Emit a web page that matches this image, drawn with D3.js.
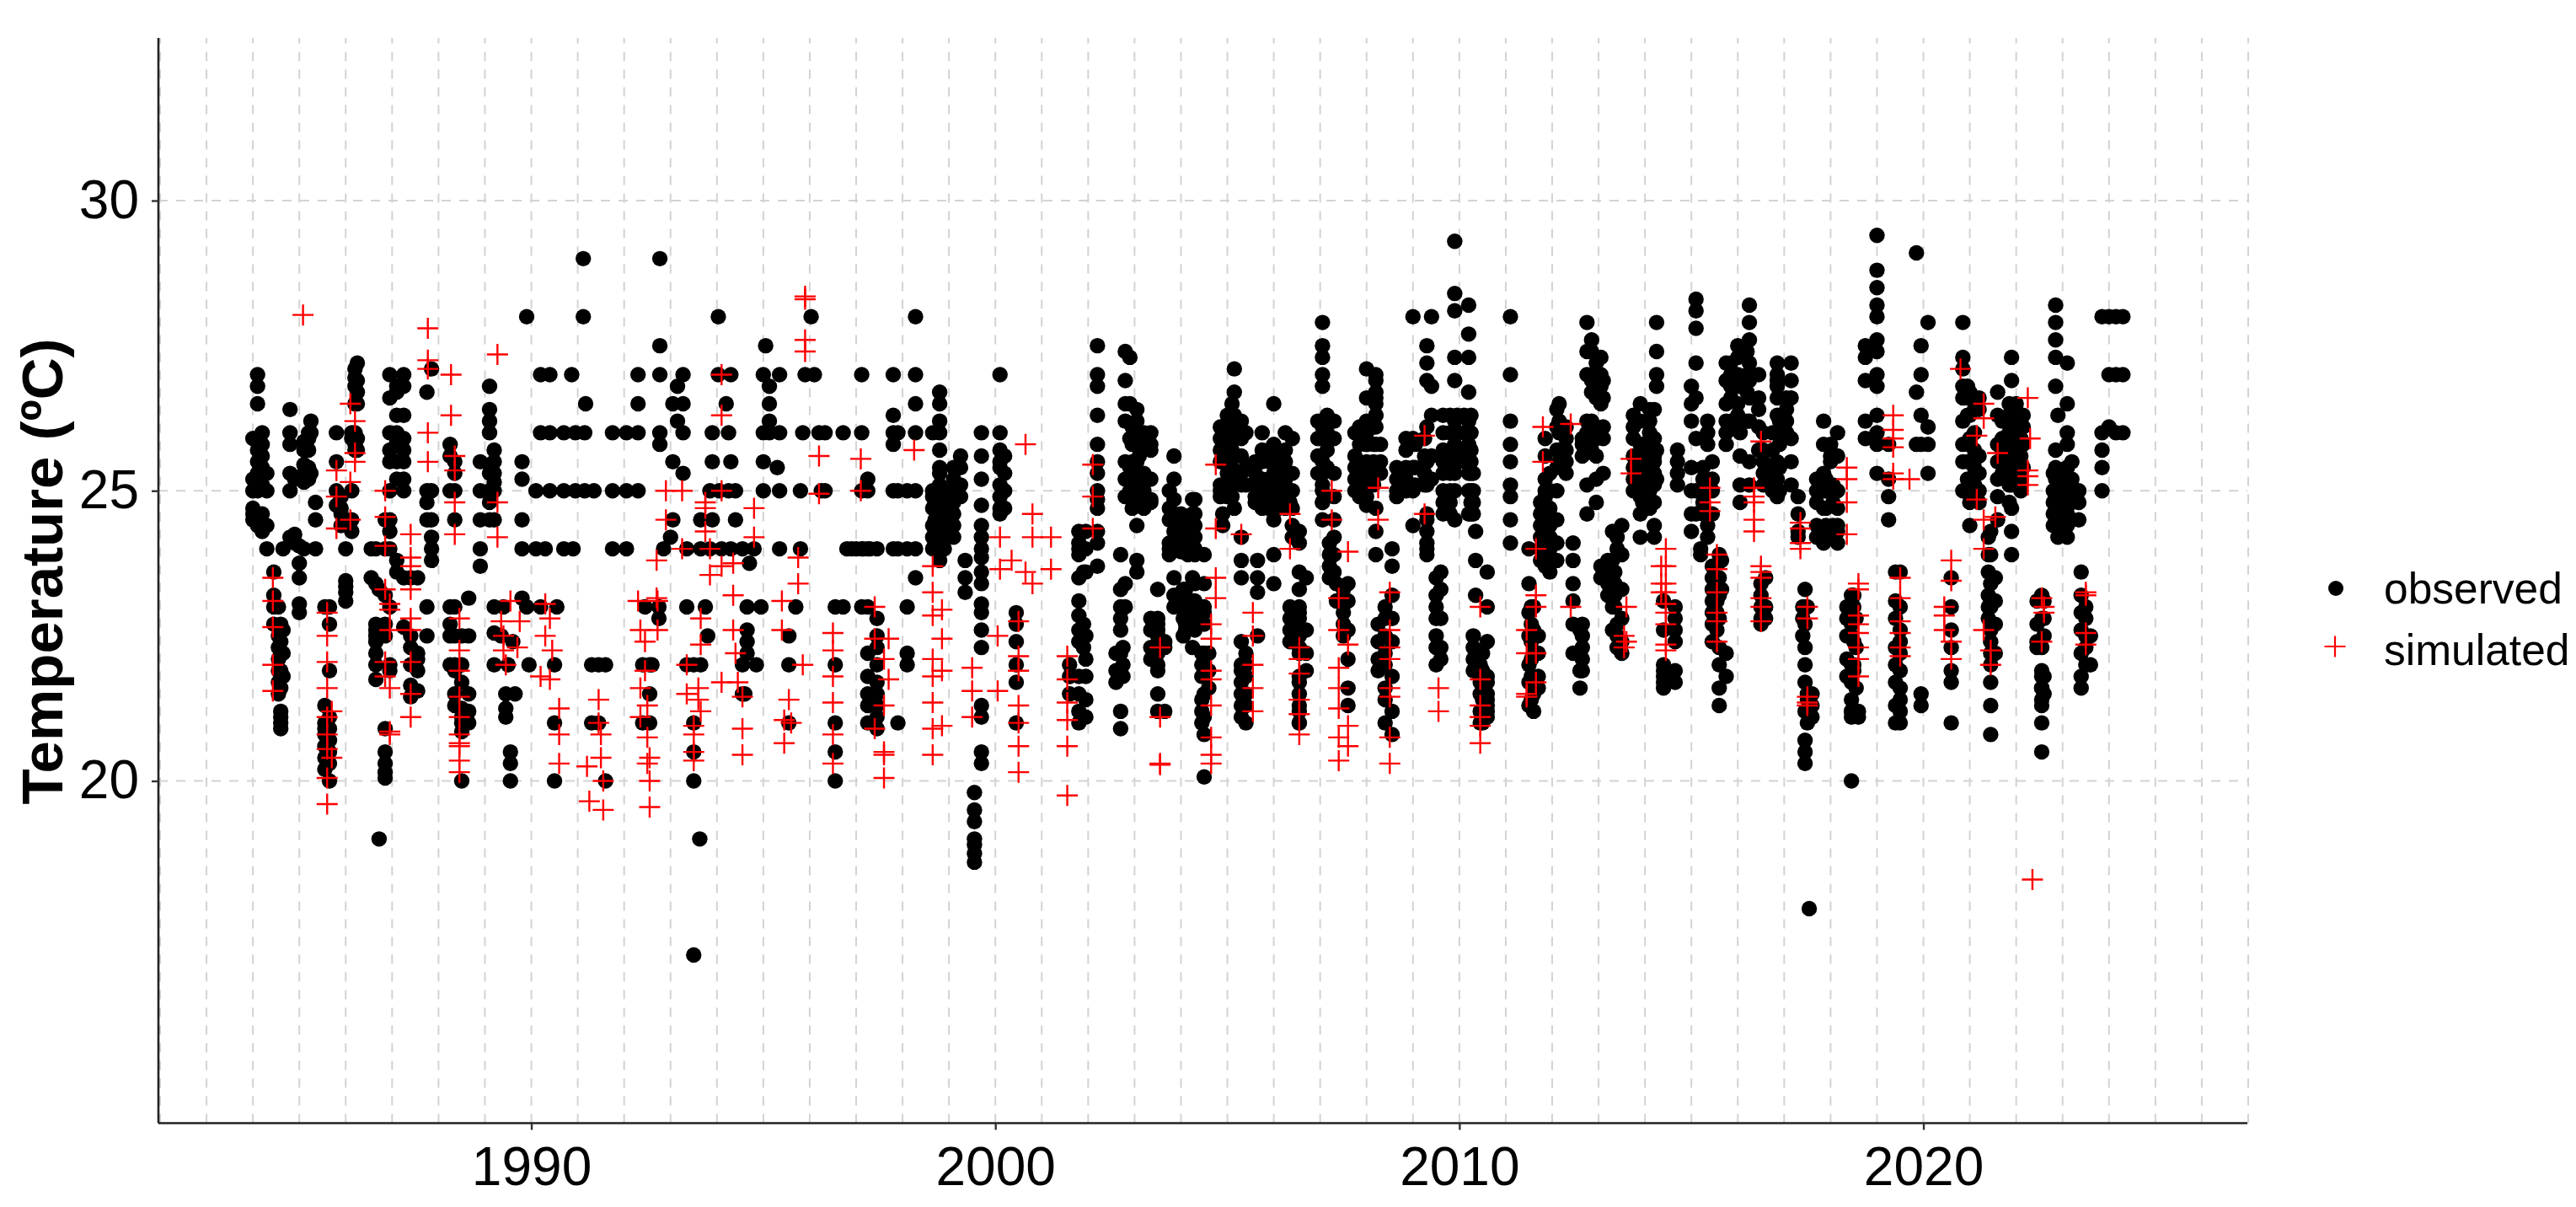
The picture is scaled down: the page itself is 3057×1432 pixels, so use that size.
<!DOCTYPE html>
<html><head><meta charset="utf-8">
<script src="https://cdn.jsdelivr.net/npm/d3@7"></script>
<style>html,body{margin:0;background:#fff}svg{display:block}text{font-family:"Liberation Sans",Arial,sans-serif;fill:#000}</style>
</head><body><svg id="c" width="3057" height="1432"></svg>
<script>
// each row: decimal year, then temperatures read at that date
const observedColumns = [
[1984.0,25.9,25.2,25,24.7,24.6,24.5],[1984.1,27,26.8,26.5,25.9,25.7,25.5,25.3,25,24.4],[1984.2,26,25.8,25.6,25.4,25.1,24.6,24.3],[1984.3,25.3,25,24.4,24],
[1984.45,23.6,23.2,23,22.7],[1984.55,23,22.5,22.3,22.1,21.9,21.7,21.5],[1984.6,22.7,22.4,22.2,21.9,21.6,21.2,21,20.9,21.1],[1984.65,24,22.6,22.2,21.8],
[1984.8,26.4,26,25.8,25.3,25,24.2],[1984.9,25.2,24.1,24.25],[1985.0,23.75,23.5,23.05,22.9,24.05],[1985.1,25.85,25.7,25.45,25.3,25.15,24],[1985.2,26,25.9,25.7,25.4,25.2],[1985.25,26.2,26,25.3],[1985.35,24.8,24.5,24],
[1985.55,23,21.3,21,20.9,20.8,20.6,20.4,20.2],[1985.65,23,22.7,21.9,21.1,20.9,20.7,20.5,20.3,20],[1985.8,26,25.5,25,24.75],[1985.9,24.9,24.7,24.6,24.4],[1986.0,24,23.45,23.25,23.1,23.35],
[1986.13,26,25.9,25,24.5,24.3],[1986.2,27.1,26.95,26.8,26.5,26,25.8,25.7],[1986.25,27.2,26.9,26.7,26.5,25.9,25.7],
[1986.55,24,23.5],[1986.65,24,23.4,22.2,22,21.75,22.7,22.5,22.4,22.6],[1986.72,19,23.3],[1986.85,24.5,24,22.7,22.5,20.9,20.5,20.3,20.15,20.05,23.2],[1986.95,27,26.6,26,25.7,25.5,25,24.3,24.5,24,23,22,21.9],
[1987.1,26.8,26.7,26.3,26,25.85,25.5,25.2,23.8,23.6],[1987.25,27,26.8,26.3,25.9,25.7,25.5,25.2,25,23.5,22.65],[1987.4,22.5,22,21.65,21.45,23.5,22.3],[1987.55,23.5,22.2,22.1,21.9,21.55],[1987.75,26.7,25,24.8,24.5,23,22.5],[1987.85,27.1,25,24.5,24.2,24,23.8],
[1988.25,25.8,25.6,25,23,22.7,22.5,22],[1988.35,25.5,25.3,25,24.5,23,22.5,22,21.9,21.5,21.3],[1988.5,22.5,22,21.7,21.25,21.1,21,20.85,20],[1988.65,23.15,22.5,21.5,21.2,21],[1988.9,25.5,25,24.5,24,23.7],
[1989.1,26.8,26.4,26.2,26,25.45,25.3,25,24.8,24.5],[1989.2,25.7,25.5,25.3,25.15,25,24.5,23,22.55,22],
[1989.35,22.5],[1989.4,23],[1989.45,21.5,21.25,21.1],[1989.5,22],[1989.55,20.5,20.3,20],[1989.6,22.4],[1989.65,21.5],[1989.8,25.5,25.2,24.5,24,23.15],[1989.9,28,23],[1989.95,22],[1990.1,25,24],[1990.2,27,26,23],[1990.3,24],[1990.4,27,26,25],[1990.5,22,21,20],[1990.55,23],[1990.7,26,25,24],[1990.87,27],[1990.9,24],[1990.95,26,25],
[1991.12,29,28],[1991.15,26,25],[1991.17,26.5],[1991.3,22,21],[1991.35,25],[1991.45,22,21],[1991.6,22,20],[1991.75,26,25,24],[1992.05,26,25,24],[1992.3,27,26.5,26,25],[1992.4,22,21],[1992.45,23],[1992.55,22,21.5,21],[1992.6,22],[1992.75,23,22.8],[1992.77,29,27.5,27,26,25.8],[1992.85,24],
[1993,24.2],[1993.05,26.5,25.5,24.5],[1993.15,26.2,26.8],[1993.27,27,26.5,26,25.3],[1993.35,24,23,22],[1993.5,22,21,20.5,20,17],[1993.63,19],[1993.65,24.5,24,22],[1993.75,23],[1993.8,22.5],[1993.85,25,24],[1993.9,26,25.5,24.5],
[1994.03,28,27],[1994.05,25],[1994.1,24],[1994.2,26.5],[1994.25,26,25],[1994.3,27,25.5,24],[1994.4,25,24.5],[1994.55,24,22,21.5],[1994.6,21.5],[1994.65,23,22.6,22.4,22.2],[1994.7,23.75],[1994.8,24],[1994.85,22],[1994.95,23],
[1995,27,26,25.5,25],[1995.05,27.5],[1995.13,26.8,26.5,26.2,26],[1995.3,25.4],[1995.35,27,26,25,24],[1995.55,22.5,22,21],[1995.7,23],[1995.8,25,24],[1995.85,26],[1995.9,27],[1996.03,28],[1996.1,27],[1996.2,26],[1996.25,25],
[1996.33,26,25],[1996.55,23,22,21,20.5,20],[1996.72,26,23],[1996.9,24],[1997.12,27,26,25,24,23],[1997.25,25.2,25,24,23,22.2,21.8,21.5,21.3,21],[1997.45,24,22.8,22.5,22.3,22,21.7,21.5,21.3,21.1,20.9],[1997.8,27,26.3,26,25.8,25,24],[1997.9,26,25,24,21],
[1998.1,25,24,23,22.2,22],[1998.28,28,27,26.5,26,25,24,23.5],[1998.65,26,25,24.9,24.7,24.4,24.2,24],[1998.8,26.7,26.5,26.2,26,25.7,25.4,25.3,25.1,24.8,24.7,24.3,24,23.8],
[1999.7,26,25.6,25.2,24.75,24.4,24.2,24,23.85,23.6,23.4,23.05,22.9,22.6,22.3,21.3,21.1,20.5,20.3],[1999.55,19.8,19.5,19.3,19,18.9,18.75,18.6],[1999.35,23.8,23.5,23.25],
[2000.1,27,26,25.7,25.5,25.4,25.1,24.9,24.7,24.6],[2000.45,22.9,22.7,22.4,22,21.7,21],[2000.2,25.6,25.3,25,24.7],
[2001.8,24.3,24.1,24,23.9,23.5,23.1,22.85,22.6,22.4,21.8,21.5,21.2,21],[2001.95,24.3,24,23.6,22.5,22.1,21.8,21.4,21.1],[2002.2,27.5,27,26.8,26.3,25.8,25.5,25.3,25,24.85,24.7,24.3,24.1,23.7],
[2002.7,23.9,23.3,23,22.8,22.6,22.2,21.8,21.2,20.9],[2002.8,27.4,26.9,26.5,26.2,25.5,25.2,24.9,23.4,23],[2002.9,27.3,26.5,25.9,25.4,25],[2003.05,26.4,26.2,26,25.8,25.5,25.2,24.9,24.75,24.4,23.8,23.6],[2003.35,26,25.7,25.2,24.85],
[2003.5,23.3,22.8,22.6,22.2,21.9,21.5,21.2],[2003.65,22.4,22.3,21.2],[2003.85,25.6,25.2,24.85,24.6,24.3,24.0,23.5,23.2,23],[2004.25,24.85,24.6,24.3,24,23.5,23.1,22.7,22.3],[2004.05,23.2,23.3,22.8,22.5],[2004.5,23.9,23.4,23,22.2,22,21.8,21.5,21.1,20.8,20.07],
[2004.9,26,25.6,25,24.6,24.4],[2005.15,27.1,26.7,26.3,26,25.6,25.3,24.7],[2005.4,26,25.4,25.1],[2005.3,24.2,23.8,23.5,22.4,22,21.9,21.7,21.5,21.3,21.1],[2005.65,23.8,23.5,23.25,22.5],
[2006.0,26.5,25.8,25.3,25,24.8,24.5,23.9,23.4],[2006.4,25.9,25.3,25,24.7,24.4,24.2],[2006.55,24.3,24.1,23.6,23.3,22.9,22.6,22.3,21.7,21.3,21.0],[2006.7,23.5,22.6,22.2,21.9],
[2007.05,27.9,27.5,27.3,27,26.8,26.1,25.9,25.5,25.1,24.8,24.5],[2007.3,26.2,25.9,25.3,24.9,24.5,24.2,23.9,23.6],[2007.6,23.4,23.1,22.6,22.1,21.6,21.3],
[2008.0,27.1,26.6,26.1,25.8,25.4,24.75],[2008.2,27,26.6,26.3,25.8,25.4,24.7,24.3,23.9],[2008.55,24,23.7,23.2,22.8,22.4,21.8,21.2,20.8],
[2009.0,28,25.9,25.4,25,24.4],[2009.3,27.5,27.2,26.9,26.1,25.5,25.1,24.6,24],[2009.6,23.6,23.3,22.8,22.3,22.1],[2009.4,28,26.8,26.3,25.6,25.2],
[2009.9,29.3,28.4,28.1,27.3,26.9,26.2,25.8,25.3,25,24.5],[2010.2,28.2,27.7,27.3,26.7,26.2,25.8,25.3,25,24.6],[2010.35,24.3,23.8,23.2],[2010.6,23.6,23,22.4,21.8,21.5,21.1,21.3],[2010.5,22.2,21.9,21.4,21.0],
[2011.1,28,27,26.2,25.8,25.5,25.1,24.9,24.5,24.1],[2011.5,24,23.4,22.9,22.5,22,21.7,21.3],[2011.6,23,22.6,22.2,21.8,21.5,21.2],[2011.85,25.9,25.6,25.2,25,24.6,24.3,24,23.7],[2012.1,26.4,26.1,25.7,25.4,25,24.5,24.1,23.8],
[2012.45,24.1,23.8,23.4,23.1,22.7,22.2],[2012.6,22.6,22.2,21.9,21.6],[2012.75,27.9,27.4,27,26.2,26,25.7,25.1,24.6],[2012.95,27.2,27,26.6,26.1,25.9,25.6,25.2,24.8],[2013.1,26.9,26.6,26.1,25.9,25.3],
[2013.3,24.3,23.8,23.5,23,22.6],[2013.5,24.4,23.9,23.3,22.8,22.4,22.2],[2013.9,26.5,26.2,25.8,25.5,25.3,24.9,24.6,24.2],[2014.2,26.4,25.9,25.6,25.1,24.8,24.2,24.4],
[2014.4,23.1,22.6,21.8,21.6],[2014.25,27.9,27.4,27,26.8,25.7,25.2],[2015.0,26.8,26.5,26.2,25.4,25,24.6,24.3],[2015.1,28.3,28.1,27.8,27.2,26.6,25.9,25,24.6],[2015.6,23.9,23.5,23.2,22.8,22.3,22,21.6,21.3],[2015.75,22.2,21.8],
[2016.05,26,25.6,25.1,24.8],[2016.25,28.2,27.9,27.6,27.2,26.9,26.6,26.2,25.5,25.1],[2016.45,27,26.6,26.4,26.1,25.7],[2016.6,23.5,23,22.8],
[2016.85,27.2,27,26.8,26,25.5,25.2,24.9],[2017.15,27.2,26.9,26.6,25.9,25.5,25.1],[2017.3,24.9,24.6,24.2,24.3],[2017.45,23.3,23,22.7,22.3,22,21.7,21.2,20.7,20.5,20.3],[2017.54,17.8],
[2017.85,26.2,25.8,25.3,25,24.7,24.3,24.1],[2018.15,26,25.6,25,24.7,24.3,24.1,24.4],[2018.45,23.2,22.7,22.5,22,21.7,21.2,20],[2018.55,22.8,22.3,21.6],[2019.0,29.4,28.8,28.5,28.2,28,27.6,27.4,27,26.8,26.3,26,25.8,25.3],[2018.75,27.5,27.3,26.9,26.2,25.9],
[2019.85,29.1,26.7,25.8],[2019.95,27.5,27,26.3,25.8],[2020.1,27.9,26.1,25.8,25.3],[2019.25,25.8,25.2,24.9,24.5],[2019.4,23.6,23.1,22.8,22.3,22,21.7,21.3,21],[2019.95,21.5,21.3],
[2020.85,27.9,27.3,27.1,26.8,26.6,26.2,25.8,25.5,25],[2021.0,26.7,26.3,25.9,25.1,24.8,24.4],[2020.6,23.5,23,22.6,22.3,21.9,21.7,21],[2021.45,24.3,23.9,23.4,23,22.6,22.2,21.3,20.8],
[2021.6,26.7,26.3,25.8,25.5,25.2,24.9,24.5],[2021.9,27.3,26.9,26.4,26.1,25.8,25.1,24.7,24.3,23.9],[2022.1,26.3,25.9,25.6,25.2,25],[2022.55,23.2,22.8,22.3,21.9,21.6,21.3,21,20.5],[2022.6,21.8,21.5],
[2022.85,28.2,27.9,27.6,27.3,26.8,25.7,25.4,25.2,24.9],[2023.1,27.2,26.5,26,25.8,25.4,25.1,24.8,24.2],[2022.9,26.3,25.2,24.8,24.5,24.2],[2023.35,25,24.8,24.5],[2023.4,23.6,23.2,22.9,22.6,22.2,21.8,21.6],[2023.6,22.5,22],
[2023.85,28,26,25.7,25.4,25],[2024.0,28,27,26.1],[2024.15,28,27,26],[2024.3,28,27,26]
];
// points inside the dense clumps
const observedClumps = [
[1996.8,24],[1997.0,24],[1997.15,24],[1997.3,24],
[1998.7,24.8,24.5,24.3,24.1],[1998.9,25,24.8,24.6,24.4,24.2,24],[1999.1,25.4,25.2,25,24.8,24.6,24.4,24.2],[1999.25,25.6,25.4,25.1,24.9],
[2001.9,23.6,22.7,22.5,22.3],[2001.6,22,21.8,21.5],[2002.6,22.2,21.9,21.7],[2002.75,22.3,22,21.8],
[2002.95,26.1,25.8,25.5,25.3,25.1,24.9,24.7],[2003.1,25.9,25.6,25.3,25.1,24.9,24.8],[2003.2,26,25.8,25.3,25,24.7],[2003.35,25.8,24.8],
[2003.35,22.8,22.6,22.3,22.1],[2003.5,22.7,22.5,22.3,22],
[2003.75,25,24.7,24.5,24.1,24,23.9],[2004.0,24.6,24.4,24.2,24.1,23.95],[2004.15,24.5,24.3,24.1,24,23.9],[2004.3,24.85,24.6,24.4,24.2,24,23.9],
[2004.1,23.3,23.1,22.9,22.7,22.6],[2004.3,23.4,23.1,22.9,22.7,22.6],[2004.5,22.9,22.7],[2004.45,22.2,22,21.8,21.4,21.2,21],[2004.6,22.2,21.9,21.6],
[2004.85,26.1,25.9,25.7,25.5,25.1,25,24.9],[2005.0,26.3,26.1,25.9,25.7,25.5,25.3,25,24.9],[2005.1,26.5,26.2,25.9,25.7,25.4,25.1,24.9],[2005.3,26.2,25.9,25.6,25.3,25.1],[2005.4,22.2,22,21.8,21.5,21.3,21],
[2005.6,25.5,25.3,25.1,24.9,24.8],[2005.75,26,25.7,25.5,25.2,25,24.8,24.7],[2005.9,25.7,25.5,25.2,25,24.8,24.7],[2006.1,25.6,25.4,25.2,25,24.8,24.7],[2006.25,26,25.7,25.5,25.2,25,24.8,24.7],[2006.35,25.3,25,24.8,23,22.8,22.6,22.4],[2006.55,23,22.8,22.5,22.2,21.8,21.5,21.2,21],
[2006.95,26.2,25.9,25.6,25.3],[2007.15,26.3,26,25.7,25.4],[2007.05,25.3,25,24.8],[2007.2,24.1,23.9,23.7,23.5],[2007.35,23.4,23.1],[2007.5,23.3,23.1,22.9,22.7,22.5],
[2007.75,26,25.6,25.4,25.2,25],[2007.85,26.1,25.8,25.5,25.3,25.1,24.9],[2008.0,26.2,26,25.8,25.5,25.3,25.1,24.9],[2008.15,26.1,25.8,25.5,25.3,25.1],[2008.3,25.8,25.5,25.3],[2008.2,26.9,26.7,26.5,26.3,26.1],[2008.25,22.7,22.4,22.1,21.9],[2008.4,23,22.8,22.5,22.2,22,21.6,21.4,21],
[2008.65,25.4,25.2,25,24.9],[2008.85,25.9,25.7,25.4,25.2,25],[2009.05,25.8,25.4,25.1],[2009.25,25.9,25.6,25.3,25.1],[2009.3,24.5,24.3,24.1,23.9],[2009.5,23.5,23.2,23,22.8,22.5,22.3,22],
[2009.65,26.3,26,25.7,25.5,25.3,25,24.8,24.6],[2009.8,26.3,26,25.7,25.5,25.3,25,24.8,24.6],[2009.95,26.3,26,25.7,25.5],[2010.1,26.3,26,25.7,25.5],[2010.25,26.3,26,25.7,25.5,25.3,25,24.8,24.6],[2010.3,25.3,25,24.8,24.6,22.5,22.3,22.1,21.9],[2010.45,22,21.7,21.5,21.2,21],[2010.6,21.7,21.4,21.2],
[2012.15,26.5,26.2,26,25.7,25.5],[2012.3,26.1,25.9,25.7,25.5,25.3],[2011.75,24.8,24.6,24.4,24.2,24,23.8],[2011.95,25.3,25,24.7,24.4,24.2,24,23.8,23.6],[2011.85,24.9,24.6,24.4,24.2,24],[2011.55,23,22.7,22.4,22.1,21.8,21.4],[2011.7,22.5,22.2,21.8,21.6],
[2012.85,27.6,27.4,27,26.9,26.7,26.2,25.9,25.7],[2013.05,27.3,27,26.8,26.6,26.5,23.7,23.5],[2012.65,25.9,25.8,25.6,22.7,22.5,22.3,22.1,21.9],[2013.2,23.8,23.6,23.4,23.2],[2013.35,23.6,23.4,23.2,23],[2013.4,24,24.2,22.7,22.5,22.3],
[2013.75,26.3,26.1,25.9,25.6,25.4,25.2,25],[2013.95,25.8,25.6,25.4,25.2,25,24.8],[2014.1,26.4,26.2,26,25.7,25.5,25.2,25,24.7],[2014.2,25.5,25.3],[2014.7,25.7,25.5,25.3,25.1],[2014.65,23,22.8,22.6,22.4,21.9,21.7],[2014.4,22,21.9,21.7],
[2015.25,25.4,25.2,25,24.8,24.6],[2015.45,25.5,25.2,25,24.6,23.7,23.5,23.3,23.1,22.9,22.7,22.4],[2015.35,25.8,26,26.2,24.4,24.2],[2015.2,24,23.9],[2015.55,23.3,23.1,22.9,22.6],[2015.65,23.8,23.3],
[2015.75,27.2,26.9,26.5,26.2,26,25.8],[2016.0,27.5,27.3,27,26.8,26.5,26.3,26.1],[2015.85,27.2,27,26.8,26.6,26.2],[2016.2,27.4,27,26.7,26.2],
[2016.55,26,25.7,25.5,25.3,25.1],[2016.75,26,25.7,25.4,25.2,25],[2016.9,26.2,25.8,25.4,25],[2016.85,26.9,26.6,26.3],[2017.05,26.6,26.4,26.2,26],[2016.5,23.4,23.2,23,22.8,22.7],
[2017.7,25.2,25,24.8,24.4,24.2],[2017.9,25.2,25,24.7,24.4,24.2],[2018.05,25.1,24.8,24.4],[2018.0,25.8,25.6,25.5],[2017.4,23,22.8,22.5],[2017.5,23,21.5,21.4,21.2,21],[2017.6,21.5,21.3,21.1],
[2018.35,23,22.8,22.5,22.1,21.8],[2018.5,23.2,23,22.8,22.4,22,21.9],[2018.45,21.4,21.2,21.1],[2018.6,21.2,21.1],
[2019.5,23.6,23,22.6,22.4,22.2,21.9,21.6,21.4,21.2,21],
[2020.95,26.8,26.6,26.3,25.8,25.5,25.2,25],[2021.1,26.6,26.4,26,25.7,25.4,25.1],[2021.2,26.6,26.4,25.6,25.3,25,24.8],[2021.4,24.2,23.9,23.6,23.2,23,22.8],[2021.55,23.5,23.1,22.7,22.2],[2021.45,22.4,22,21.7],
[2021.7,26.2,25.9,25.7,25.5,25.3],[2021.85,26.5,26.3,26,25.7,25.5,25.3,25.4,25.2,25.1,24.8],[2022.0,26.5,26.3,26.1,25.8,25.5,25.2],[2022.15,26.3,26.1,25.8,25.4],[2022.45,23.1,22.7,22.4,22.3],[2022.6,23.1,22.8,22.5],[2022.55,21.8,21.6,21.4],
[2022.8,25.3,25,24.8,24.6,24.4],[2022.95,25.3,25,24.8,24.6,24.4],[2023.1,25.4,25,24.8,24.6,24.4],[2023.2,25.5,25.2,25,24.8,24.5],[2023.5,23,22.8,22.5,22.3,22]
];
const simulatedColumns = [
[1984.43,23.5,23.1,22.65,22,21.55],[1985.08,28.03],[1985.6,22.9,22.5,22.05,21.6,21.1,20.8,20.55,20.05,19.6],[1985.8,25.35,24.9,24.35],[1985.7,21.2,20.4],
[1986.1,26.5,25.15,24.5],[1986.2,26.2,25.65,25.5],[1986.85,25,24.55,24.05,23.3,22.05,21.8],[1986.95,23.05,22.95,22.6,21.6,20.85,20.8],[1987.4,24.25,23.85,23.7,23.3,22.8,22.6,22.05,21.5,21.1],
[1987.77,27.8,27.25,27.1,26,25.5],[1988.27,27,26.3],[1988.35,25.6,25.35,24.8,24.25],[1988.45,22.8,22.25,21.9,21.45,21.1,20.8,20.65,20.6,20.35,20.15],[1989.27,27.35,24.8,24.2],
[1989.35,22.75],[1989.4,22.5,22.25],[1989.45,22],[1989.55,23.1],[1989.7,22.3],[1989.75,22.75],[1990.3,23.05,22.5],[1990.4,22.8,21.75],[1990.45,22.25],[1990.2,21.8],[1990.6,21.25,20.8,20.3],
[1991.2,20.25],[1991.25,19.65],[1991.45,21.4,21],[1991.5,20.8,20.4],[1991.55,20,19.5],[1992.3,23.1],[1992.35,22.6,21.6,21.1],[1992.45,22.4,21.9],[1992.5,21.3,20.75,20.3],[1992.55,20.4,20,19.55],[1992.7,23.8,23.15],[1992.72,23.1,22.6],
[1992.9,25,24.5],[1993.25,25,24],[1993.35,22,21.5],[1993.5,20.95,20.8,20.5,20.35],[1993.6,21.6,21.4],[1993.65,22.8,22.35,21.2],[1993.75,24.8,24.7,24.3],[1993.85,23.55,24],[1994.1,27,26.3,25,23.7,21.7],[1994.35,23.75,23.2,22.6],[1994.4,22.2],[1994.45,21.7],[1994.55,21.45,20.9,20.45],[1994.8,24.7,24.2],
[1995.4,23.1,22.6],[1995.45,21.05,20.65],[1995.55,21.4],[1995.6,21],[1995.75,23.85,23.4],[1995.85,22],[1995.9,28.35,28.3,27.6,27.4],[1996.2,25.6,24.95],[1996.5,22.55,22.25,21.8,21.35,20.8,20.3],[1997.1,25.55,25],[1997.4,23,22.45,20.9],[1997.6,22.1,21.3,20.5,20.45,20.05],[1997.7,22.45,21.75],
[1998.25,25.7],[1998.65,23.7,23.25,22.85,22.1,21.8,21.35,20.9,20.45],[1998.85,22.95,22.45,21.9,20.95],[1999.5,21.95,21.55,21.1],[2000.05,22.5,21.55],[2000.1,24.2,23.65],[2000.35,23.8],[2000.65,25.8,23.6],[2000.8,24.6,24.2,23.4],[2001.2,24.2,23.65],[2000.5,22.75,22.15,21.9,21.3,21,20.6,20.15],
[2001.55,22.15,21.75,21.35,21.05,20.6,19.75],[2002.1,25.45,24.9,24.35],[2003.55,22.3,21.1,20.3,20.28],[2004.65,22.7,22.45,21.9,21.75,21.3,20.75,20.45,20.3],[2004.75,25.45,24.35,23.5,23.15],[2005.3,24.25],[2005.55,22.9,22.5,22,21.6,21.2],
[2006.35,24.6,24],[2006.55,22.3,22.1,21.85,21.4,21.15,20.8],[2007.25,25,24.5],[2007.4,23.15,22.6,21.95,21.6,21.25,20.75,20.35],[2007.6,23.95,22.35,20.95,20.6],[2008.25,25.05,24.5],[2008.5,23.25,22.6,22.3,22.1,21.6,21.45,20.75,20.3],[2009.25,25.95,24.6],[2009.55,21.6,21.2],
[2010.45,23,21.75,21.3,21.1,20.95,20.65],[2011.8,26.1,25.5],[2011.65,24,23.2,23,22.2,21.7],[2011.45,22.6,22.2,21.5,21.45],[2012.4,26.15,23],[2013.7,25.55,25.3],[2013.55,22.5,22.3],[2013.6,23,22.4],
[2014.45,24,23.7,23.4,23.25,23.05,22.9,22.7,22.35,22.25],[2014.35,23.7,23.4,23.25],[2015.4,25.05,24.8,24.65],[2015.55,23.9,23.65,23.25,22.9,22.75,22.4],[2016.5,25.85],[2016.35,25.05,24.9,24.8,24.5,24.3],[2016.5,23.7,23.5,23.6,23.15,23,22.75],
[2017.35,24.45,24.35,24.1,24],[2017.5,23,22.8,21.45,21.35,21.3],[2018.35,25.4,25.2,24.8,24.25],[2018.6,23.4,23.3,22.85,22.7,22.55,22.3,22.1,21.8],[2019.35,26.3,26.05,25.9,25.75,25.3,25.2],[2019.7,25.2],[2019.5,23.5,23.15,22.75,22.55,22.3,22.15],
[2020.8,27.1],[2020.45,23,22.85,22.6],[2020.6,23.8,23.45,22.4,22.1],[2021.3,26.5,26.25,24],[2021.15,25.95,24.85],[2021.3,24.5,22.6],[2021.55,24.55],[2021.45,22.25,22],[2021.6,25.65],[2022.3,25.9],[2022.25,26.6,25.35,25.25,25.1],[2022.35,18.3],[2022.55,23.15,22.4],[2022.6,23,22.9],
[2023.5,23.25,23.2,22.55,22.35]
];
const xTickYears = [1990,2000,2010,2020];
const yTickValues = [20,25,30];
const legendEntries = ["observed","simulated"];
const yLabel = "Temperature (ºC)";

const panel={l:188,r:2667,t:45,b:1332.5};
const x=d3.scaleLinear().domain([1982,2027]).range([190,2668]);
const y=d3.scaleLinear().domain([20,30]).range([926.5,238]);
const svg=d3.select("#c");
const GRID="#d3d3d3";
const plus="M-12.5,0H12.5M0,-12.5V12.5";
const g=svg.append("g");

g.selectAll(".gx").data(d3.range(1982,2028)).join("line").attr("class","gx")
 .attr("x1",d=>x(d)).attr("x2",d=>x(d)).attr("y1",panel.b).attr("y2",panel.t)
 .attr("stroke",GRID).attr("stroke-width",2).attr("stroke-dasharray","11,10");
g.selectAll(".gy").data(yTickValues).join("line").attr("class","gy")
 .attr("x1",panel.l).attr("x2",panel.r).attr("y1",d=>y(d)).attr("y2",d=>y(d))
 .attr("stroke",GRID).attr("stroke-width",2).attr("stroke-dasharray","11,10");

const obs=observedColumns.concat(observedClumps).flatMap(c=>c.slice(1).map(t=>[c[0],t]));
const sim=simulatedColumns.flatMap(c=>c.slice(1).map(t=>[c[0],t]));
g.selectAll(".o").data(obs).join("circle").attr("class","o")
 .attr("cx",d=>x(d[0])).attr("cy",d=>y(d[1])).attr("r",9.2).attr("fill","#000");
g.selectAll(".s").data(sim).join("path").attr("class","s")
 .attr("transform",d=>`translate(${x(d[0])},${y(d[1])})`).attr("d",plus)
 .attr("fill","none").attr("stroke","#f00").attr("stroke-width",2.4);

const ax=g.append("g").attr("transform",`translate(0,${panel.b})`).call(d3.axisBottom(x).tickValues(xTickYears).tickFormat(d3.format("d")).tickSize(8).tickPadding(20));
const ay=g.append("g").attr("transform",`translate(${panel.l},0)`).call(d3.axisLeft(y).tickValues(yTickValues).tickFormat(d3.format("d")).tickSize(8).tickPadding(15));
ax.select(".domain").attr("d",`M${panel.l},0H${panel.r}`).attr("stroke","#222").attr("stroke-width",2.6);
ay.select(".domain").attr("d",`M0,${panel.b}V${panel.t}`).attr("stroke","#222").attr("stroke-width",2.6);
[ax,ay].forEach(a=>{a.selectAll(".tick line").attr("stroke","#333").attr("stroke-width",2.4);
 a.selectAll(".tick text").attr("font-size",64).attr("font-family",'"Liberation Sans"').attr("fill","#000");});

svg.append("text").attr("transform","translate(74,678) rotate(-90)").attr("text-anchor","middle")
 .attr("font-size",69).attr("font-weight","bold").text(yLabel);

const lg=svg.append("g");
lg.append("circle").attr("cx",2772).attr("cy",698).attr("r",9).attr("fill","#000");
lg.append("path").attr("transform","translate(2771,767)").attr("d",plus).attr("fill","none").attr("stroke","#f00").attr("stroke-width",2.2);
legendEntries.forEach((t,i)=>lg.append("text").attr("x",2829).attr("y",716+i*73).attr("font-size",51.5).text(t));
</script></body></html>
